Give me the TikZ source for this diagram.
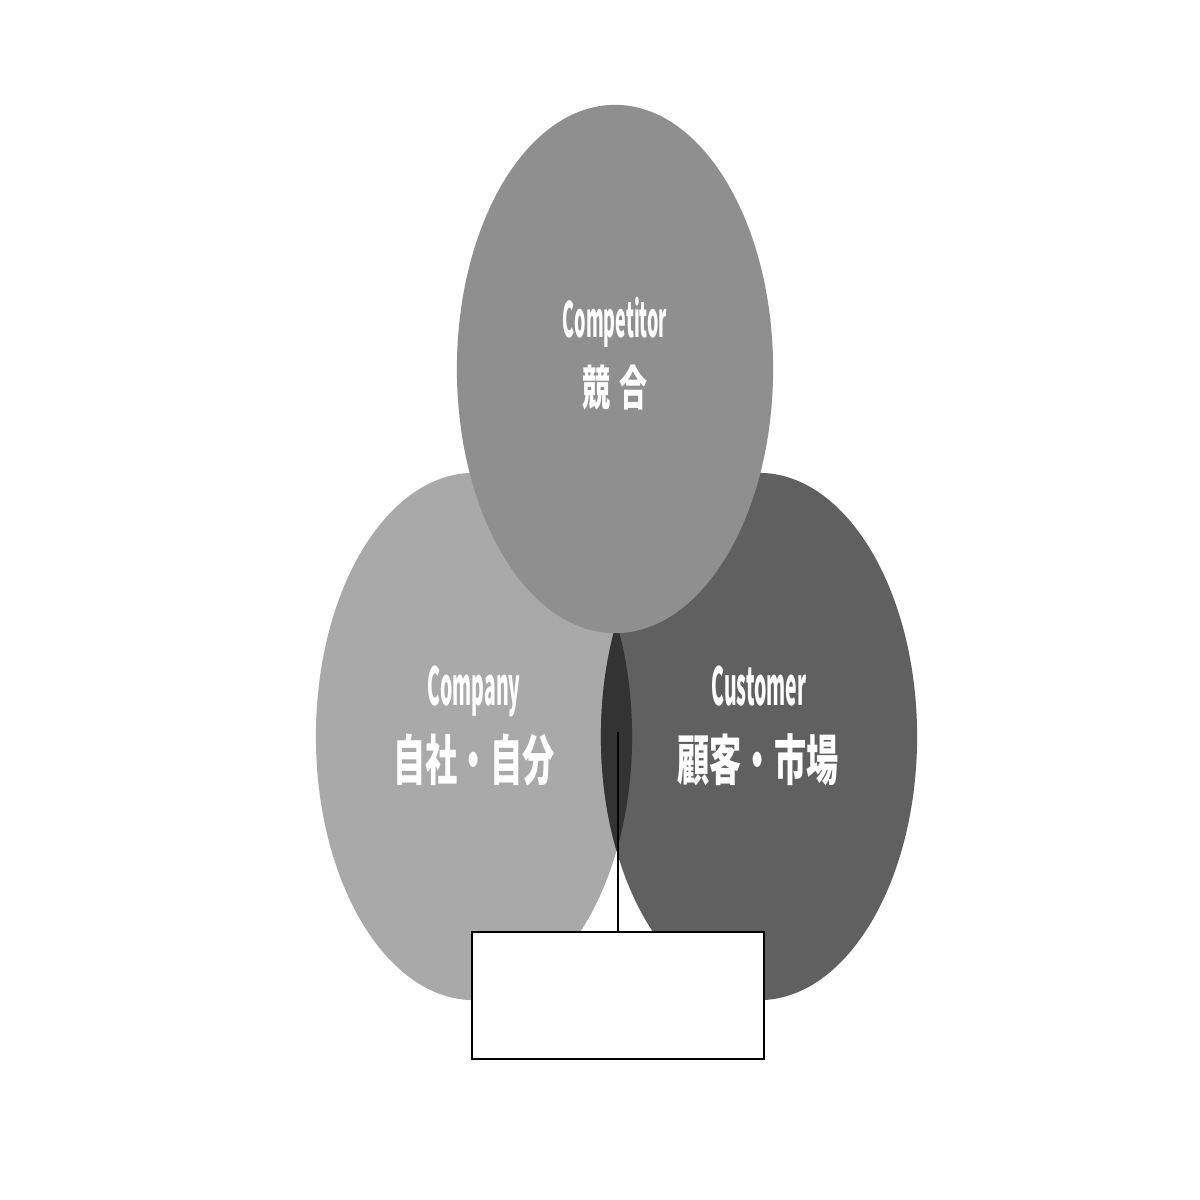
\documentclass[tikz,border=0pt]{standalone}
\usepackage{fontspec}
\usetikzlibrary{shapes.geometric}
\newfontfamily\labfont[FakeStretch=0.37]{Noto Sans CJK JP}
\newfontfamily\labcjk[FakeStretch=0.59]{Noto Sans CJK JP}
\definecolor{cCompany}{HTML}{A9A9A9}
\definecolor{cCompetitor}{HTML}{8F8F8F}
\definecolor{cCustomer}{HTML}{606060}
\definecolor{cLens}{HTML}{333333}
\tikzset{
  ell/.style={ellipse, inner sep=0pt, draw=none, minimum width=3.16cm, minimum height=5.27cm},
  en/.style={anchor=base, text=white, inner sep=0pt, font=\labfont\bfseries},
  jp/.style={anchor=base, text=white, inner sep=0pt, font=\labcjk\bfseries},
  callbox/.style={draw=black, line width=0.75pt, fill=white, minimum width=2.92cm, minimum height=1.27cm, inner sep=0pt},
  callline/.style={draw=black, line width=0.6pt}
}
\begin{document}
\begin{tikzpicture}[x=0.01cm, y=-0.01cm]
\useasboundingbox (0,0) rectangle (1200,1200);
\node[ell, fill=cCompany] (company) at (474,736.5) {};
\node[ell, fill=cCustomer] (customer) at (759,736.5) {};
\begin{scope}
  \clip (474,736.5) ellipse [x radius=1.58cm, y radius=2.635cm];
  \fill[cLens] (759,736.5) ellipse [x radius=1.58cm, y radius=2.635cm];
\end{scope}
\node[ell, fill=cCompetitor, minimum height=5.28cm] (competitor) at (615,369) {};
\coordinate (lensdot) at (618,732);
\node[callbox] (box) at (618,995.5) {};
\draw[callline] (lensdot) -- (box.north);
\node[en, font=\labfont\bfseries\fontsize{13.8pt}{14pt}\selectfont] (t1) at (615,337) {Competitor};
\node[jp, font=\labcjk\bfseries\fontsize{13.5pt}{14pt}\selectfont] (t2) at (615,405) {競\hspace{0.2em}合};
\node[en, font=\labfont\bfseries\fontsize{14.9pt}{15pt}\selectfont] (t3) at (474,705) {Company};
\node[jp, font=\labcjk\bfseries\fontsize{15.5pt}{16pt}\selectfont] (t4) at (474,780) {自社・自分};
\node[en, font=\labfont\bfseries\fontsize{14.9pt}{15pt}\selectfont] (t5) at (759,705) {Customer};
\node[jp, font=\labcjk\bfseries\fontsize{15.5pt}{16pt}\selectfont] (t6) at (758,780) {顧客・市場};
\end{tikzpicture}
\end{document}
